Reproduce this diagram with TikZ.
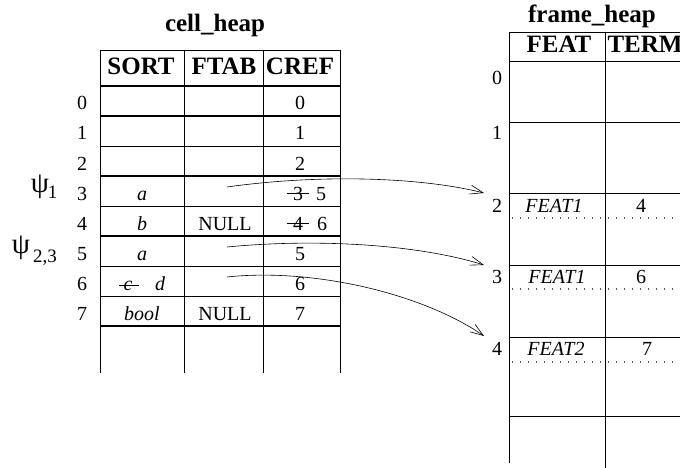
\documentclass[tikz,border=0pt]{standalone}
\usepackage{fontspec}
\setmainfont{Liberation Serif}
\usetikzlibrary{arrows.meta}

\begin{document}
\begin{tikzpicture}[x=1pt,y=-1pt,
  txt/.style={font=\fontsize{20}{24}\selectfont, anchor=base, inner sep=0pt},
  itx/.style={txt, font=\fontsize{20}{24}\selectfont\itshape},
  hdr/.style={font=\fontsize{25}{30}\selectfont\bfseries, anchor=base, inner sep=0pt},
  psi/.style={font=\fontsize{29}{32}\selectfont, anchor=center, inner sep=0pt},
  sub/.style={font=\fontsize{19}{22}\selectfont, anchor=base, inner sep=0pt},
  rule/.style={line width=0.7pt},
  heavyrule/.style={line width=1.5pt},
  dotrule/.style={line width=1.2pt, dash pattern=on 1.2pt off 6.8pt, black!65},
  ptr/.style={-{Straight Barb[length=13pt,width=9pt]}, line width=0.6pt},
  strike/.style={line width=0.7pt}]
\useasboundingbox (0,0) rectangle (680,468);

% ---------- cell_heap ----------
\node[hdr] (cht) at (215,32) {cell\_heap};
\node[hdr] (hs) at (141,75) {SORT};
\node[hdr] (hf) at (224,75) {FTAB};
\node[hdr] (hc) at (300,75) {CREF};

% columns
\foreach \x in {100,184,263,340} \draw[rule] (\x,50) -- (\x,373);
% rows
\draw[rule] (100,50) -- (340,50);
\foreach \y in {146,206,266,296} \draw[rule] (100,\y) -- (340,\y);
\foreach \y in {86,116,176,236,326} \draw[heavyrule] (100,\y) -- (340,\y);

% row indices
\foreach \i in {0,...,7} \node[txt] (ci\i) at (82,{116+30*\i-6}) {\i};

% marked cells
\node[psi] (p1) at (40,186.5) {ψ};
\node[sub] (p1s) at (52.5,198) {1};
\node[psi] (p23) at (21,247.5) {ψ};
\node[sub] (p23s) at (45,262) {2,3};

% CREF column
\foreach \i in {0,1,2,5,6,7} \node[txt] (cr\i) at (300,{116+30*\i-6}) {\i};
\node[txt] (cr3) at (298,200) {3};
\node[txt] (cr3n) at (321,200) {5};
\draw[strike] ([xshift=-6pt]cr3.west) -- ([xshift=6pt]cr3.east);
\node[txt] (cr4) at (298,230) {4};
\node[txt] (cr4n) at (322,230) {6};
\draw[strike] ([xshift=-6pt]cr4.west) -- ([xshift=6pt]cr4.east);

% SORT column
\node[itx] (s3) at (142,200) {a};
\node[itx] (s4) at (142,230) {b};
\node[itx] (s5) at (142,260) {a};
\node[itx] (s6) at (128,290) {c};
\draw[strike] ([xshift=-4pt]s6.west) -- ([xshift=6pt]s6.east);
\node[itx] (s6n) at (160,290) {d};
\node[itx] (s7) at (142,320) {bool};

% FTAB column
\node[txt] (f4) at (225,230) {NULL};
\node[txt] (f7) at (225,320) {NULL};

% ---------- frame_heap ----------
\node[hdr] (fht) at (592,23) {frame\_heap};
\node[hdr] (hfe) at (559,53) {FEAT};
\node[hdr] (hte) at (645,53) {TERM};

\draw[rule] (509,32) -- (509,463);
\draw[rule] (605,32) -- (605,468);
\foreach \y in {32,61,122,193,265,337,416} \draw[rule] (509,\y) -- (680,\y);
\foreach \y in {218,289,362} \draw[dotrule] (512,\y) -- (680,\y);

\node[txt] (fi0) at (497,85) {0};
\node[txt] (fi1) at (497,140) {1};
\node[txt] (fi2) at (497,212) {2};
\node[txt] (fi3) at (497,283) {3};
\node[txt] (fi4) at (497,355) {4};

\node[itx] (fe2) at (554,212) {FEAT1};
\node[txt] (ft2) at (641,212) {4};
\node[itx] (fe3) at (557,283) {FEAT1};
\node[txt] (ft3) at (641,283) {6};
\node[itx] (fe4) at (556,355) {FEAT2};
\node[txt] (ft4) at (647,355) {7};

% ---------- pointers ----------
\coordinate (a1) at (227,187);
\coordinate (a2) at (227,247);
\coordinate (a3) at (227,277);
\coordinate (b1) at (484,193);
\coordinate (b2) at (484,265);
\coordinate (b3) at (484,336);
\draw[ptr] (a1) .. controls (320,174) and (420,177) .. (b1);
\draw[ptr] (a2) .. controls (320,238) and (420,245) .. (b2);
\draw[ptr] (a3) .. controls (310,268) and (420,292) .. (b3);
\end{tikzpicture}
\end{document}
